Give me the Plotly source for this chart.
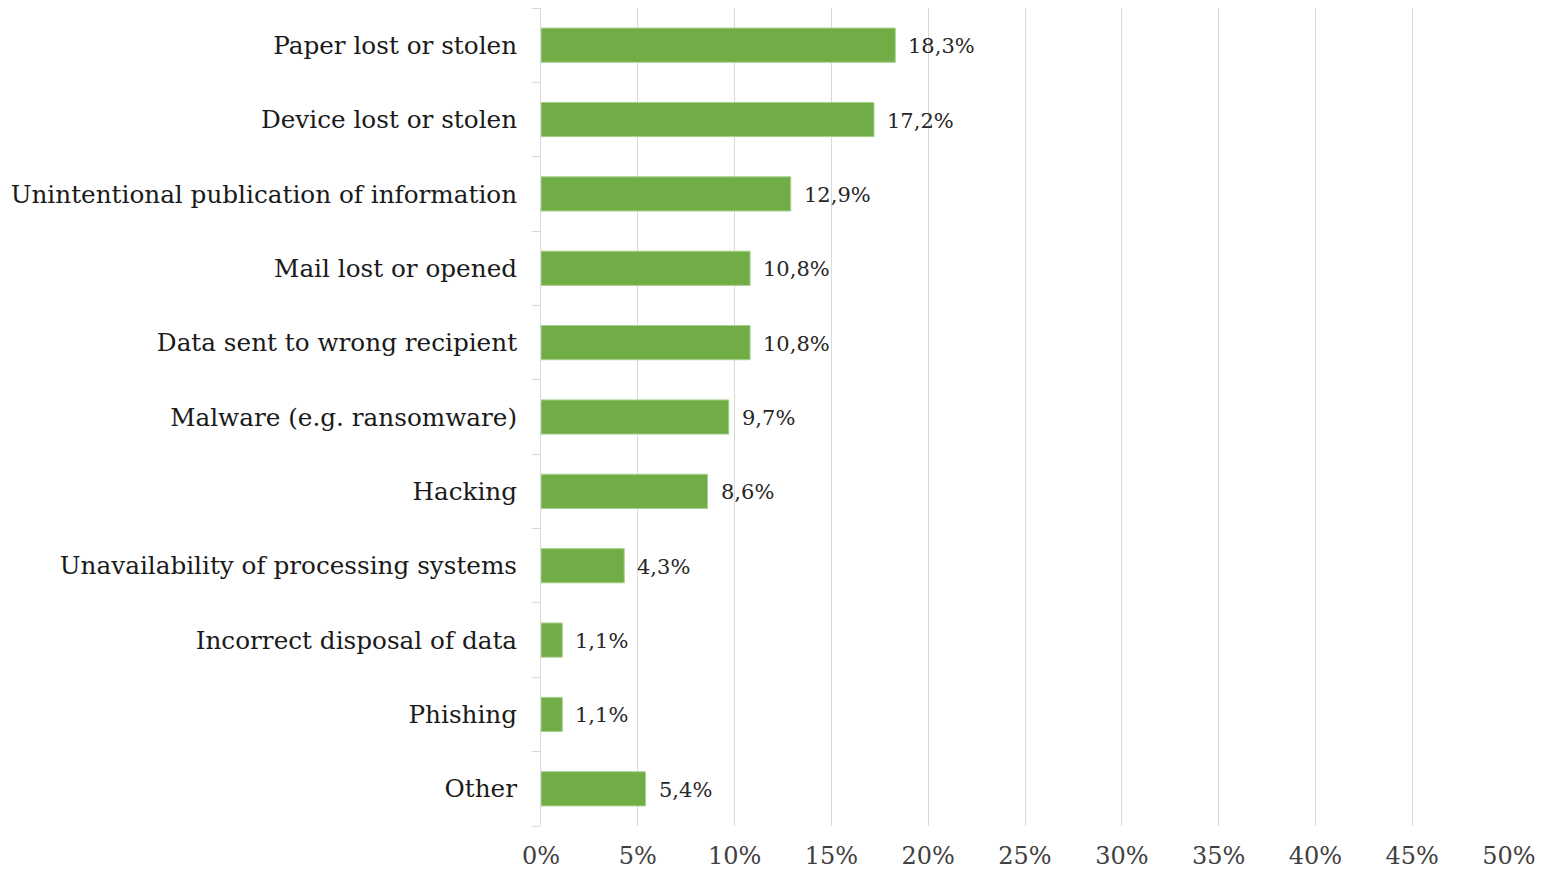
import plotly.graph_objects as go

# Breach categories (top to bottom) and their share of reported incidents (%)
categories = [
    "Paper lost or stolen",
    "Device lost or stolen",
    "Unintentional publication of information",
    "Mail lost or opened",
    "Data sent to wrong recipient",
    "Malware (e.g. ransomware)",
    "Hacking",
    "Unavailability of processing systems",
    "Incorrect disposal of data",
    "Phishing",
    "Other",
]
shares = [18.3, 17.2, 12.9, 10.8, 10.8, 9.7, 8.6, 4.3, 1.1, 1.1, 5.4]
x_ticks = [0, 5, 10, 15, 20, 25, 30, 35, 40, 45, 50]
x_tick_labels = [f"{t}%" for t in x_ticks]

FONT = "DejaVu Serif"
GREEN = "#70AD47"

labels = [f"{v:.1f}".replace(".", ",") + "%" for v in shares]

fig = go.Figure(
    go.Bar(
        x=shares,
        y=categories,
        orientation="h",
        width=0.46,
        marker=dict(color=GREEN, line=dict(color="#A9D18E", width=1)),
        hoverinfo="skip",
    )
)

# value labels just right of each bar end
for cat, v, lab in zip(categories, shares, labels):
    fig.add_annotation(
        x=v, y=cat, text=lab, showarrow=False,
        xanchor="left", yanchor="middle", xshift=11, yshift=-1,
        font=dict(family=FONT, size=21, color="#262626"),
    )

fig.update_layout(
    width=1551,
    height=879,
    margin=dict(l=541, r=42, t=8, b=53),
    paper_bgcolor="white",
    plot_bgcolor="white",
    showlegend=False,
    font=dict(family=FONT, color="#262626"),
)

fig.update_xaxes(
    range=[0, 50],
    tickvals=x_ticks,
    ticktext=x_tick_labels,
    showgrid=True,
    gridcolor="#D9D9D9",
    gridwidth=1,
    zeroline=False,
    showline=False,
    ticks="",
    tickfont=dict(family=FONT, size=24, color="#404040"),
    ticklabelstandoff=13,
)

fig.update_yaxes(
    categoryorder="array",
    categoryarray=categories[::-1],
    autorange=False,
    range=[-0.5, len(categories) - 0.5],
    showgrid=False,
    showline=True,
    linecolor="#D9D9D9",
    linewidth=1,
    ticks="outside",
    tickson="boundaries",
    ticklen=8,
    tickcolor="#D9D9D9",
    tickfont=dict(family=FONT, size=24.7, color="#1a1a1a"),
    ticklabelstandoff=18,
)

fig.write_html("out.html")
